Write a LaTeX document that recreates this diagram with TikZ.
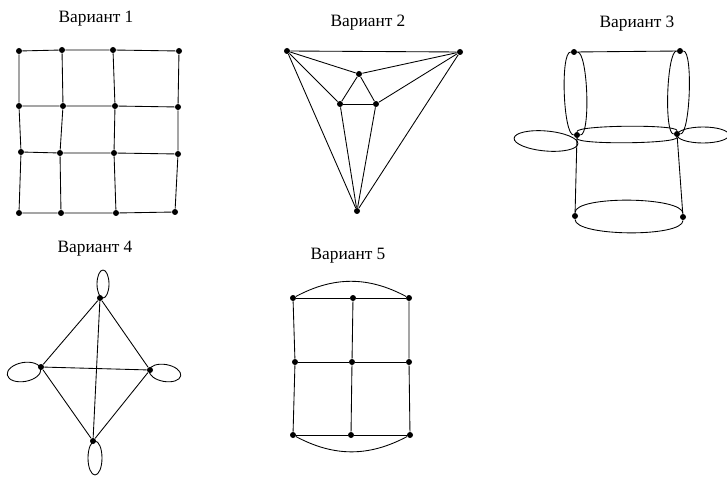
\documentclass[tikz,border=0pt]{standalone}
\usepackage{fontspec}
\setmainfont{Liberation Serif}

\tikzset{every picture/.style={line width=0.65pt}}
\tikzset{
  vertex/.style={circle,fill=black,inner sep=0pt,minimum size=4.5pt},
  title/.style={anchor=base,font=\fontsize{13}{15}\selectfont}
}

\begin{document}
\begin{tikzpicture}[x=0.75pt,y=0.75pt,yscale=-1,xscale=1]
\useasboundingbox (0,0) rectangle (727,477);

% Text Node
\node[title] (t1) at (96,23) {Вариант 1};
\node[title] (t2) at (368,27) {Вариант 2};
\node[title] (t3) at (637,28) {Вариант 3};
\node[title] (t4) at (95,252) {Вариант 4};
\node[title] (t5) at (348,259) {Вариант 5};

%Graph: Вариант 1
\foreach \n/\x/\y in {a11/19/51, a12/62/50, a13/113/50, a14/179/51,
                      a21/19/106, a22/63/106, a23/115/106, a24/178/107,
                      a31/21/152, a32/60/153, a33/114/153, a34/178/154,
                      a41/19/213, a42/61/213, a43/116/213, a44/175/212}
  \node[vertex] (\n) at (\x,\y) {};
\foreach \r in {1,...,4}{
  \draw (a\r1) -- (a\r2) -- (a\r3) -- (a\r4);
  \draw (a1\r) -- (a2\r) -- (a3\r) -- (a4\r);
}

%Graph: Вариант 2
\foreach \n/\x/\y in {b1/287/51, b2/460/52, b3/359/74,
                      b4/340/104, b5/376/104, b6/357/211}
  \node[vertex] (\n) at (\x,\y) {};
\foreach \a/\b in {b1/b2, b1/b3, b2/b3, b1/b4, b1/b6, b2/b5,
                   b2/b6, b3/b4, b3/b5, b4/b5, b4/b6, b5/b6}
  \draw (\a) -- (\b);

%Graph: Вариант 3
\foreach \n/\x/\y in {c1/574/52, c2/680/51, c3/577/135,
                      c4/677/134, c5/575/216, c6/683/217}
  \node[vertex] (\n) at (\x,\y) {};
\draw (c1) -- (c2);
\draw (c3) -- (c5);
\draw (c4) -- (c6);
\draw (c1) to[out=180,in=180,looseness=0.32] (c3);
\draw (c1) to[out=0,in=0,looseness=0.32] (c3);
\draw (c2) to[out=180,in=180,looseness=0.30] (c4);
\draw (c2) to[out=0,in=0,looseness=0.30] (c4);
\draw (c3) to[out=90,in=90,looseness=0.34] (c4);
\draw (c3) to[out=-90,in=-90,looseness=0.34] (c4);
\draw (c5) to[out=90,in=90,looseness=0.57] (c6);
\draw (c5) to[out=-90,in=-90,looseness=0.57] (c6);
% loops
\draw (c3) ++(-31,6) ellipse [x radius=32, y radius=10, rotate=5];
\draw (c4) ++(26,1) ellipse [x radius=26, y radius=8];

%Graph: Вариант 4
\foreach \n/\x/\y in {d1/100/298, d2/41/367, d3/150/370, d4/93/441}
  \node[vertex] (\n) at (\x,\y) {};
\foreach \a/\b in {d1/d2, d1/d3, d2/d4, d3/d4, d1/d4, d2/d3}
  \draw (\a) -- (\b);
% loops
\draw (d1) ++(3,-14) ellipse [x radius=6, y radius=14];
\draw (d2) ++(-17,5) ellipse [x radius=17, y radius=9.5, rotate=-10];
\draw (d3) ++(15,3) ellipse [x radius=16, y radius=8.5, rotate=10];
\draw (d4) ++(2,17) ellipse [x radius=7, y radius=17];

%Graph: Вариант 5
\foreach \n/\x/\y in {e11/293/298, e12/353/298, e13/409/298,
                      e21/295/362, e22/352/362, e23/409/362,
                      e31/293/435, e32/351/435, e33/410/435}
  \node[vertex] (\n) at (\x,\y) {};
\foreach \r in {1,2,3}{
  \draw (e\r1) -- (e\r2) -- (e\r3);
  \draw (e1\r) -- (e2\r) -- (e3\r);
}
\draw (e11) to[bend right=28] (e13);
\draw (e31) to[bend left=28] (e33);

\end{tikzpicture}
\end{document}
